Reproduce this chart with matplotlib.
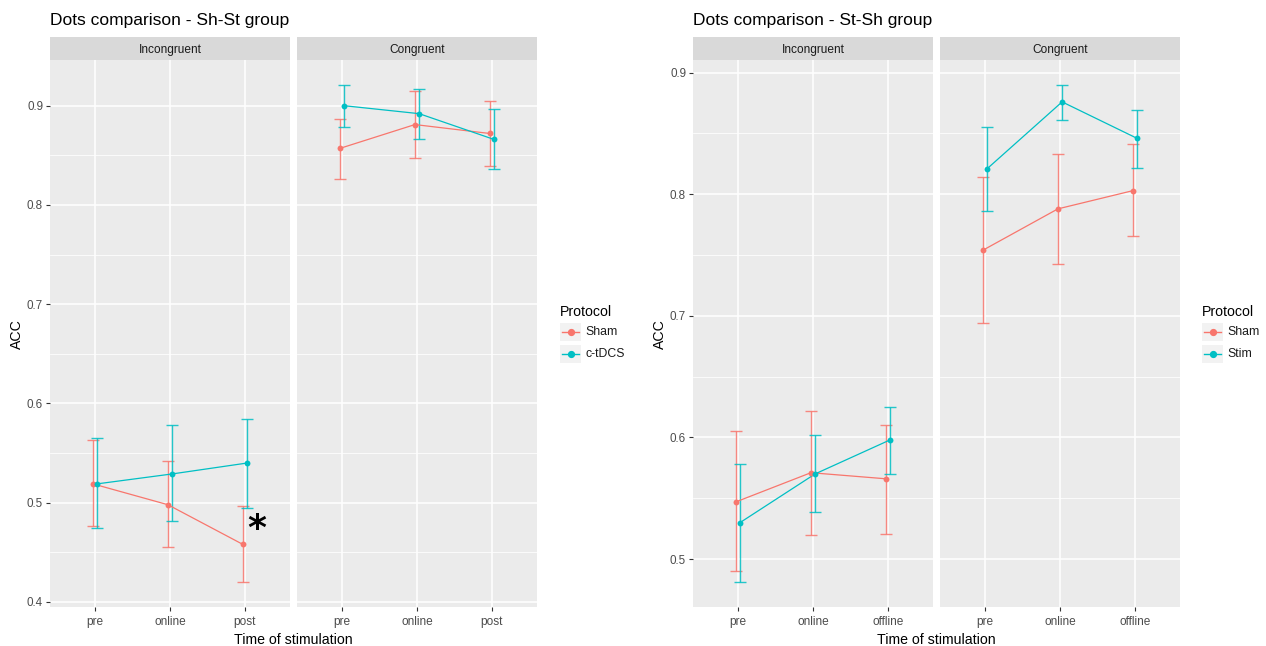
import matplotlib
matplotlib.use("Agg")
import matplotlib.pyplot as plt
import numpy as np
from matplotlib.lines import Line2D
from matplotlib.patches import Rectangle

plt.rcParams["font.family"] = ["Liberation Sans", "DejaVu Sans"]

# ---- data: accuracy means with lower / upper interval bounds ----
times_shst = ["pre", "online", "post"]
times_stsh = ["pre", "online", "offline"]

# Sh-St group
shst_incong_sham_mean = [0.519, 0.498, 0.458]
shst_incong_sham_lo = [0.477, 0.455, 0.420]
shst_incong_sham_hi = [0.563, 0.542, 0.497]
shst_incong_stim_mean = [0.519, 0.529, 0.540]
shst_incong_stim_lo = [0.475, 0.482, 0.495]
shst_incong_stim_hi = [0.565, 0.578, 0.584]

shst_cong_sham_mean = [0.857, 0.881, 0.872]
shst_cong_sham_lo = [0.826, 0.847, 0.839]
shst_cong_sham_hi = [0.887, 0.915, 0.905]
shst_cong_stim_mean = [0.900, 0.892, 0.866]
shst_cong_stim_lo = [0.879, 0.866, 0.836]
shst_cong_stim_hi = [0.921, 0.917, 0.897]

# St-Sh group
stsh_incong_sham_mean = [0.547, 0.571, 0.566]
stsh_incong_sham_lo = [0.490, 0.520, 0.521]
stsh_incong_sham_hi = [0.605, 0.622, 0.610]
stsh_incong_stim_mean = [0.530, 0.570, 0.598]
stsh_incong_stim_lo = [0.481, 0.539, 0.570]
stsh_incong_stim_hi = [0.578, 0.602, 0.625]

stsh_cong_sham_mean = [0.754, 0.788, 0.803]
stsh_cong_sham_lo = [0.694, 0.743, 0.766]
stsh_cong_sham_hi = [0.814, 0.833, 0.841]
stsh_cong_stim_mean = [0.821, 0.876, 0.846]
stsh_cong_stim_lo = [0.786, 0.861, 0.822]
stsh_cong_stim_hi = [0.855, 0.890, 0.869]

facets = ["Incongruent", "Congruent"]
shst_yticks = [0.4, 0.5, 0.6, 0.7, 0.8, 0.9]
stsh_yticks = [0.5, 0.6, 0.7, 0.8, 0.9]

SHAM = "#F8766D"
STIM = "#00BFC4"
PANEL_BG = "#EBEBEB"
STRIP_BG = "#D9D9D9"
TICK_TXT = "#4D4D4D"

W, H = 1266, 646
fig = plt.figure(figsize=(W / 100, H / 100), dpi=100)
fig.patch.set_facecolor("white")


def px_axes(x0, y0, x1, y1):
    """Axes from pixel box (top-left origin)."""
    return fig.add_axes([x0 / W, 1 - y1 / H, (x1 - x0) / W, (y1 - y0) / H])


def fy(y):
    return 1 - y / H


def data_range(*arrs):
    vals = np.concatenate([np.asarray(a) for a in arrs])
    lo, hi = vals.min(), vals.max()
    pad = (hi - lo) * 0.05
    return lo - pad, hi + pad


def draw_panel(ax, labels, series, ylim, yticks, show_y):
    ax.set_facecolor(PANEL_BG)
    for s in ax.spines.values():
        s.set_visible(False)
    ax.set_xlim(-0.6, len(labels) - 0.4)
    ax.set_ylim(*ylim)
    minor = [t + 0.05 for t in [yticks[0] - 0.1] + yticks]
    for m in minor:
        if ylim[0] < m < ylim[1]:
            ax.axhline(m, color="white", lw=0.55, zorder=0)
    for t in yticks:
        ax.axhline(t, color="white", lw=1.1, zorder=0)
    for i in range(len(labels)):
        ax.axvline(i, color="white", lw=1.1, zorder=0)

    x = np.arange(len(labels))
    for k, (mean, lo, hi, color) in enumerate(series):
        xs = x + (-0.028 if k == 0 else 0.028)
        mean = np.asarray(mean)
        ax.errorbar(xs, mean, yerr=[mean - np.asarray(lo), np.asarray(hi) - mean],
                    fmt="none", ecolor=color, elinewidth=1.0, capsize=4,
                    capthick=1.0, zorder=2, alpha=0.85)
        ax.plot(xs, mean, color=color, lw=0.9, zorder=3)
        ax.scatter(xs, mean, s=18, color=color, zorder=4, linewidths=0)

    ax.set_xticks(x)
    ax.set_xticklabels(labels)
    ax.tick_params(axis="x", length=3, color="#333333", labelcolor=TICK_TXT,
                   labelsize=8.6, pad=3.5)
    if show_y:
        ax.set_yticks(yticks)
        ax.set_yticklabels([f"{t:.1f}" for t in yticks])
        ax.tick_params(axis="y", length=3, color="#333333", labelcolor=TICK_TXT,
                       labelsize=8.4, pad=2)
    else:
        ax.set_yticks([])
    return ax


def draw_strip(x0, x1, text):
    sa = px_axes(x0, 37, x1, 60)
    sa.set_facecolor(STRIP_BG)
    sa.set_xticks([])
    sa.set_yticks([])
    for s in sa.spines.values():
        s.set_visible(False)
    sa.text(0.5, 0.29, text, ha="center", va="baseline", fontsize=8.6, color="#1A1A1A")


def draw_legend(x0, labels):
    fig.text(x0 / W, fy(316), "Protocol", fontsize=10.2, ha="left", va="baseline")
    for i, (lab, color) in enumerate(zip(labels, [SHAM, STIM])):
        top = 323 + i * 22
        fig.add_artist(Rectangle((x0 / W, fy(top + 18)), 21 / W, 18 / H,
                                 transform=fig.transFigure, facecolor="#F2F2F2",
                                 edgecolor="none"))
        yc = fy(top + 9)
        fig.add_artist(Line2D([(x0 + 2) / W, (x0 + 19) / W], [yc, yc],
                              transform=fig.transFigure, color=color, lw=1.0))
        fig.add_artist(Line2D([(x0 + 10.5) / W], [yc], transform=fig.transFigure,
                              marker="o", ms=4.2, color=color, lw=0))
        fig.text((x0 + 25) / W, yc, lab, fontsize=8.8, ha="left", va="center",
                 color="#1A1A1A")


# ---- Sh-St group ----
ylim_l = data_range(shst_incong_sham_lo, shst_incong_sham_hi, shst_incong_stim_lo,
                    shst_incong_stim_hi, shst_cong_sham_lo, shst_cong_sham_hi,
                    shst_cong_stim_lo, shst_cong_stim_hi)
ax1 = draw_panel(px_axes(50, 60, 290, 607), times_shst,
                 [(shst_incong_sham_mean, shst_incong_sham_lo, shst_incong_sham_hi, SHAM),
                  (shst_incong_stim_mean, shst_incong_stim_lo, shst_incong_stim_hi, STIM)],
                 ylim_l, shst_yticks, True)
ax2 = draw_panel(px_axes(297, 60, 537, 607), times_shst,
                 [(shst_cong_sham_mean, shst_cong_sham_lo, shst_cong_sham_hi, SHAM),
                  (shst_cong_stim_mean, shst_cong_stim_lo, shst_cong_stim_hi, STIM)],
                 ylim_l, shst_yticks, False)
draw_strip(50, 290, facets[0])
draw_strip(297, 537, facets[1])
ax1.text(2.16, 0.474, "*", fontsize=26, fontweight="bold", ha="center", va="center",
         family="DejaVu Sans")
fig.text(50 / W, fy(24.5), "Dots comparison - Sh-St group", fontsize=12.5,
         ha="left", va="baseline")
fig.text(17 / W, fy(334), "ACC", fontsize=10.2, rotation=90, ha="center", va="center")
fig.text(293.5 / W, fy(644), "Time of stimulation", fontsize=10.2, ha="center",
         va="baseline")
draw_legend(560, ["Sham", "c-tDCS"])

# ---- St-Sh group ----
ylim_r = data_range(stsh_incong_sham_lo, stsh_incong_sham_hi, stsh_incong_stim_lo,
                    stsh_incong_stim_hi, stsh_cong_sham_lo, stsh_cong_sham_hi,
                    stsh_cong_stim_lo, stsh_cong_stim_hi)
ax3 = draw_panel(px_axes(693, 60, 933, 607), times_stsh,
                 [(stsh_incong_sham_mean, stsh_incong_sham_lo, stsh_incong_sham_hi, SHAM),
                  (stsh_incong_stim_mean, stsh_incong_stim_lo, stsh_incong_stim_hi, STIM)],
                 ylim_r, stsh_yticks, True)
ax4 = draw_panel(px_axes(940, 60, 1180, 607), times_stsh,
                 [(stsh_cong_sham_mean, stsh_cong_sham_lo, stsh_cong_sham_hi, SHAM),
                  (stsh_cong_stim_mean, stsh_cong_stim_lo, stsh_cong_stim_hi, STIM)],
                 ylim_r, stsh_yticks, False)
draw_strip(693, 933, facets[0])
draw_strip(940, 1180, facets[1])
fig.text(693 / W, fy(24.5), "Dots comparison - St-Sh group", fontsize=12.5,
         ha="left", va="baseline")
fig.text(660 / W, fy(334), "ACC", fontsize=10.2, rotation=90, ha="center", va="center")
fig.text(936.5 / W, fy(644), "Time of stimulation", fontsize=10.2, ha="center",
         va="baseline")
draw_legend(1202, ["Sham", "Stim"])

fig.savefig("out.png", dpi=100)
